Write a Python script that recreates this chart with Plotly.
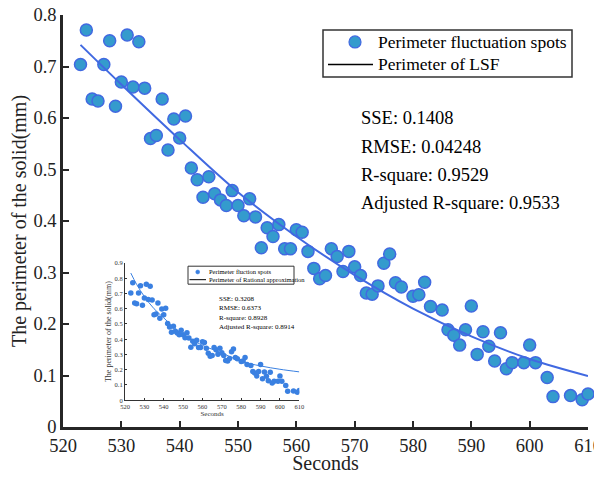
import plotly.graph_objects as go

# ---------------- data ----------------
seconds = [523,524,525,526,527,528,529,530,531,532,533,534,535,536,537,538,539,540,541,542,543,544,
           545,546,547,548,549,550,551,552,553,554,555,556,557,558,559,560,561,
           562,563,564,565,566,567,568,569,570,571,572,573,574,575,576,577,578,
           580,581,582,583,585,586,587,588,589,590,591,592,593,594,595,596,597,
           599,600,601,603,604,607,609,610]
perimeter = [0.704,0.771,0.637,0.633,0.704,0.750,0.623,0.670,0.761,0.660,0.748,0.658,0.560,0.566,0.637,0.538,0.598,0.561,0.604,0.503,0.480,0.446,
             0.486,0.453,0.441,0.430,0.459,0.430,0.410,0.443,0.408,0.348,0.387,0.370,0.393,0.346,0.346,0.383,0.378,
             0.341,0.308,0.288,0.294,0.346,0.331,0.302,0.341,0.311,0.294,0.260,0.258,0.274,0.318,0.336,0.280,0.272,
             0.254,0.257,0.281,0.234,0.227,0.189,0.178,0.159,0.189,0.235,0.141,0.185,0.157,0.128,0.183,0.113,0.125,
             0.125,0.159,0.125,0.096,0.059,0.061,0.053,0.064]

lsf_seconds = [523, 530, 540, 550, 560, 570, 580, 590, 600, 610]
lsf_perimeter = [0.742, 0.665, 0.558, 0.456, 0.370, 0.295, 0.230, 0.176, 0.132, 0.099]

rat_seconds = [523, 526, 530, 535, 540, 545, 550, 555, 560, 570, 580, 590, 600, 610]
rat_perimeter = [0.834, 0.76, 0.68, 0.60, 0.54, 0.48, 0.43, 0.395, 0.36, 0.31, 0.255, 0.225, 0.203, 0.186]

main_legend = ["Perimeter fluctuation spots", "Perimeter of LSF"]
inset_legend = ["Perimeter fluction spots", "Perimeter of Rational approximation"]
main_stats = ["SSE: 0.1408", "RMSE: 0.04248", "R-square: 0.9529", "Adjusted R-square: 0.9533"]
inset_stats = ["SSE: 0.3208", "RMSE: 0.6373", "R-square: 0.8928", "Adjusted R-square: 0.8914"]

x_ticks = [520, 530, 540, 550, 560, 570, 580, 590, 600, 610]
y_ticks_main = [0, 0.1, 0.2, 0.3, 0.4, 0.5, 0.6, 0.7, 0.8]
y_ticks_inset = [0, 0.1, 0.2, 0.3, 0.4, 0.5, 0.6, 0.7, 0.8, 0.9]

FONT = "Liberation Serif"
AX = "#262626"
DOT_FILL = "rgb(52,155,205)"
DOT_EDGE = "rgb(65,105,225)"
INSET_BLUE = "rgb(58,128,225)"

fig = go.Figure()

fig.add_trace(go.Scatter(
    x=seconds, y=perimeter, mode="markers", name=main_legend[0], showlegend=False,
    marker=dict(size=12, color=DOT_FILL, line=dict(color=DOT_EDGE, width=1.5)),
    xaxis="x", yaxis="y", cliponaxis=False))
fig.add_trace(go.Scatter(
    x=lsf_seconds, y=lsf_perimeter, mode="lines", name=main_legend[1], showlegend=False,
    line=dict(color=DOT_EDGE, width=2, shape="spline"),
    xaxis="x", yaxis="y"))

# inset
fig.add_trace(go.Scatter(
    x=seconds, y=perimeter, mode="markers", name=inset_legend[0], showlegend=False,
    marker=dict(size=5.5, color=INSET_BLUE),
    xaxis="x2", yaxis="y2"))
fig.add_trace(go.Scatter(
    x=rat_seconds, y=rat_perimeter, mode="lines", name=inset_legend[1], showlegend=False,
    line=dict(color=INSET_BLUE, width=1, shape="spline"),
    xaxis="x2", yaxis="y2"))

# The page body adds an 8px margin; the figure is sized so the page never scrolls.
OFF = 8
W, H = 602 - OFF, 466
PLOT_X0, PLOT_X1, PLOT_Y0, PLOT_Y1 = 63, 588, 15, 427.5   # target window pixels
L = PLOT_X0 - OFF
R = W - (PLOT_X1 - OFF)
T = PLOT_Y0 - OFF
B = H - (PLOT_Y1 - OFF)
pw, ph = W - L - R, H - T - B

def px(xp):
    return (xp - OFF - L) / pw

def py(yp):
    return (H - B - (yp - OFF)) / ph

annotations = []
shapes = []

def text(s, xp, yp, size, anchor="left"):
    annotations.append(dict(text=s, x=px(xp), y=py(yp), xref="paper", yref="paper",
                            xanchor=anchor, yanchor="middle", showarrow=False,
                            font=dict(family=FONT, size=size, color="black")))

for s, yp in zip(main_stats, [118, 147, 175, 203]):
    text(s, 359, yp, 18.5)
for s, yp in zip(inset_stats, [299, 308.5, 318, 327]):
    text(s, 217, yp, 7)

# main legend (drawn manually to match compact box)
shapes.append(dict(type="rect", xref="paper", yref="paper",
                   x0=px(323), x1=px(572), y0=py(77), y1=py(30),
                   line=dict(color="#333", width=1.5), fillcolor="white", layer="above"))
shapes.append(dict(type="circle", xref="paper", yref="paper",
                   x0=px(349), x1=px(361), y0=py(48), y1=py(36),
                   line=dict(color=DOT_EDGE, width=1.2), fillcolor=DOT_FILL, layer="above"))
shapes.append(dict(type="line", xref="paper", yref="paper",
                   x0=px(328), x1=px(373), y0=py(64.5), y1=py(64.5),
                   line=dict(color="black", width=1.5), layer="above"))
text(main_legend[0], 376, 42, 17.5)
text(main_legend[1], 376, 64, 17.5)

# inset legend
shapes.append(dict(type="rect", xref="paper", yref="paper",
                   x0=px(188), x1=px(294), y0=py(284.5), y1=py(266.5),
                   line=dict(color="#333", width=1), fillcolor="white", layer="above"))
shapes.append(dict(type="circle", xref="paper", yref="paper",
                   x0=px(195.7), x1=px(199.7), y0=py(274.3), y1=py(270.3),
                   line=dict(color=INSET_BLUE, width=0.5), fillcolor=INSET_BLUE, layer="above"))
shapes.append(dict(type="line", xref="paper", yref="paper",
                   x0=px(189.5), x1=px(206), y0=py(280), y1=py(280),
                   line=dict(color="black", width=1), layer="above"))
text(inset_legend[0], 207, 272, 6.5)
text(inset_legend[1], 207, 280, 6.5)

fig.update_layout(
    width=W, height=H,
    margin=dict(l=L, r=R, t=T, b=B, autoexpand=False),
    paper_bgcolor="white", plot_bgcolor="rgba(0,0,0,0)",
    font=dict(family=FONT, color="black"),
    showlegend=False,
    xaxis=dict(range=[520, 610], tickvals=x_ticks, ticks="inside", ticklen=6, tickwidth=2,
               tickcolor=AX, showline=True, linecolor=AX, linewidth=2.5, showgrid=False,
               zeroline=False, tickfont=dict(family=FONT, size=18.5, color="#222"),
               ticklabeloverflow="allow",
               title=dict(text="Seconds", font=dict(family=FONT, size=20, color="#222"), standoff=6),
               automargin=False, domain=[0, 1]),
    yaxis=dict(range=[0, 0.8], tickvals=y_ticks_main, ticks="inside", ticklen=6, tickwidth=2,
               tickcolor=AX, showline=True, linecolor=AX, linewidth=2.5, showgrid=False,
               zeroline=False, tickfont=dict(family=FONT, size=18.5, color="#222"),
               ticklabeloverflow="allow",
               title=dict(text="The perimeter of the solid(mm)", font=dict(family=FONT, size=20, color="#222"),
                          standoff=8),
               automargin=False, domain=[0, 1]),
    xaxis2=dict(range=[520, 610], tickvals=x_ticks, ticks="inside", ticklen=2, tickwidth=1,
                tickcolor="#333", showline=True, linecolor="#333", linewidth=1, showgrid=False,
                zeroline=False, tickfont=dict(family=FONT, size=6.5, color="#333"),
                title=dict(text="Seconds", font=dict(family=FONT, size=7, color="#333"), standoff=1),
                automargin=False, domain=[px(125), px(299.3)], anchor="y2"),
    yaxis2=dict(range=[0, 0.9], tickvals=y_ticks_inset, ticks="inside", ticklen=2, tickwidth=1,
                tickcolor="#333", showline=True, linecolor="#333", linewidth=1, showgrid=False,
                zeroline=False, tickfont=dict(family=FONT, size=6.5, color="#333"),
                title=dict(text="The perimeter of the solid(mm)", font=dict(family=FONT, size=8, color="#333"),
                           standoff=1),
                automargin=False, domain=[py(400.7), py(263.3)], anchor="x2"),
    annotations=annotations,
    shapes=shapes,
)

fig.write_html("out.html")
